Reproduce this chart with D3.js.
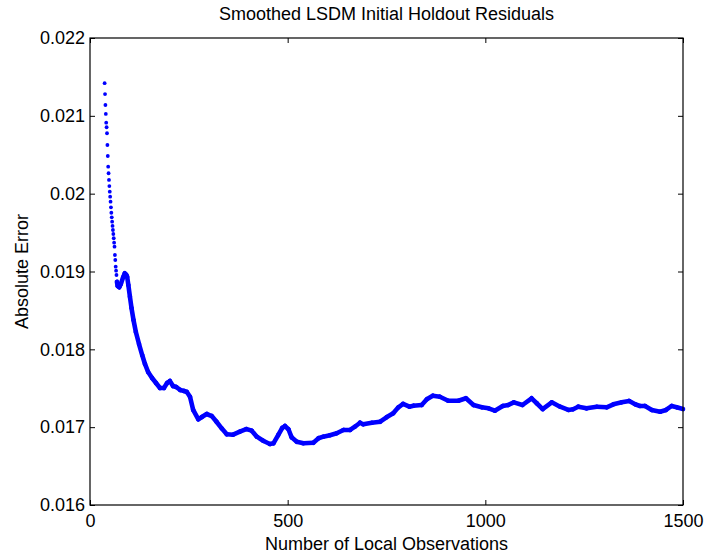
<!DOCTYPE html>
<html><head><meta charset="utf-8">
<script src="https://d3js.org/d3.v7.min.js"></script>
<style>
body{margin:0;background:#fff}
svg{display:block}
text{font-family:"Liberation Sans",Arial,Helvetica,sans-serif;fill:#000}
</style>
</head><body>
<svg id="c" width="707" height="556"></svg>
<script>
const chartTitle = "Smoothed LSDM Initial Holdout Residuals";
const xLabel = "Number of Local Observations";
const yLabel = "Absolute Error";
const xTicks = [0, 500, 1000, 1500];
const yTicks = [0.016, 0.017, 0.018, 0.019, 0.020, 0.021, 0.022];
const yTickLabels = ["0.016", "0.017", "0.018", "0.019", "0.02", "0.021", "0.022"];

const obsX = [
  37,38,39,40,41,42,43,44,45,46,47,48,49,50,51,52,53,54,55,56,57,58,59,60,61,62,63,64,65,66,67,68,
  70,74,78,84,88,92,94,97,101,105,110,116,124,132,139,147,157,167,177,187,195,202,210,218,228,238,245,253,
  261,274,283,295,308,320,333,346,362,379,395,409,422,438,455,464,476,486,493,502,510,523,540,565,578,590,607,624,641,658,670,683,691,713,734,
  750,767,780,792,808,818,839,852,867,885,906,932,951,970,991,1008,1024,1044,1058,1072,1094,1117,1130,1145,1168,1189,1210,1222,1235,
  1256,1282,1307,1324,1345,1364,1379,1391,1404,1421,1442,1457,1471,1484,1500
];
const absErr = [
  0.021420,0.021280,0.021139,0.021024,0.020912,0.020853,0.020776,0.020625,0.020484,0.020347,0.020262,0.020176,0.020098,0.020025,0.019961,0.019897,
  0.019825,0.019755,0.019696,0.019640,0.019585,0.019533,0.019482,0.019427,0.019370,0.019319,0.019212,0.019148,0.019062,0.019010,0.018955,0.018869,
  0.018814,0.018797,0.018839,0.018929,0.018977,0.018955,0.018933,0.018827,0.018676,0.018531,0.018377,0.018223,0.018068,0.017927,0.017812,0.017709,
  0.017632,0.017567,0.017503,0.017503,0.017567,0.017593,0.017529,0.017516,0.017478,0.017465,0.017452,0.017391,
  0.017221,0.017101,0.017131,0.017169,0.017143,0.017070,0.016985,0.016908,0.016903,0.016942,0.016976,0.016955,0.016878,0.016826,0.016784,0.016793,
  0.016899,0.016989,0.017015,0.016973,0.016870,0.016813,0.016793,0.016800,0.016857,0.016878,0.016896,0.016921,0.016964,0.016964,0.017006,0.017057,
  0.017037,0.017057,0.017070,
  0.017127,0.017178,0.017255,0.017298,0.017263,0.017276,0.017285,0.017358,0.017404,0.017391,0.017340,0.017340,0.017371,0.017285,0.017255,0.017242,
  0.017212,0.017272,0.017285,0.017319,0.017285,0.017371,0.017307,0.017233,0.017319,0.017263,0.017221,0.017230,0.017263,
  0.017242,0.017263,0.017255,0.017294,0.017319,0.017336,0.017294,0.017272,0.017272,0.017221,0.017199,0.017221,0.017272,0.017255,0.017233
];

const m = {left: 90, right: 683, top: 38, bottom: 505};
const svg = d3.select("#c");
const x = d3.scaleLinear().domain([0, 1500]).range([m.left, m.right]);
const y = d3.scaleLinear().domain([0.016, 0.022]).range([m.bottom, m.top]);

const data = obsX.map((v, i) => ({x: v, y: absErr[i]}));
const blue = "#0000ff";

// connect dense runs of the smoothed series; steep single-step dots stay separate
const g = svg.append("g");
for (let i = 1; i < data.length; i++) {
  const a = data[i-1], b = data[i];
  const dpx = Math.hypot(x(b.x) - x(a.x), y(b.y) - y(a.y));
  if (b.x - a.x >= 2 || dpx < 3.5) {
    g.append("line")
      .attr("x1", x(a.x)).attr("y1", y(a.y))
      .attr("x2", x(b.x)).attr("y2", y(b.y))
      .attr("stroke", blue).attr("stroke-width", 4.6).attr("stroke-linecap", "round");
  }
}
g.selectAll("circle").data(data).join("circle")
  .attr("cx", d => x(d.x)).attr("cy", d => y(d.y)).attr("r", 1.9).attr("fill", blue);

const fs = 18;
const ax = svg.append("g").attr("transform", `translate(0,${m.bottom})`)
  .call(d3.axisBottom(x).tickValues(xTicks).tickSize(-5).tickPadding(9).tickFormat(d => String(d)));
const ay = svg.append("g").attr("transform", `translate(${m.left},0)`)
  .call(d3.axisLeft(y).tickValues(yTicks).tickSize(-5).tickPadding(5).tickFormat((d, i) => yTickLabels[i]));
const at = svg.append("g").attr("transform", `translate(0,${m.top})`)
  .call(d3.axisTop(x).tickValues(xTicks).tickSize(-5).tickFormat(""));
const ar = svg.append("g").attr("transform", `translate(${m.right},0)`)
  .call(d3.axisRight(y).tickValues(yTicks).tickSize(-5).tickFormat(""));
[ax, ay, at, ar].forEach(a => {
  a.select(".domain").remove();
  a.selectAll("line").attr("stroke", "#000");
  a.selectAll("text").attr("font-size", fs).attr("font-family", '"Liberation Sans", Arial, sans-serif').attr("fill", "#000");
});
svg.append("rect").attr("x", m.left).attr("y", m.top)
  .attr("width", m.right - m.left).attr("height", m.bottom - m.top)
  .attr("fill", "none").attr("stroke", "#000").attr("stroke-width", 1.2);

svg.append("text").attr("x", (m.left + m.right) / 2).attr("y", 20)
  .attr("text-anchor", "middle").attr("font-size", fs).text(chartTitle);
svg.append("text").attr("x", (m.left + m.right) / 2).attr("y", 550)
  .attr("text-anchor", "middle").attr("font-size", fs).text(xLabel);
svg.append("text").attr("transform", `translate(28,${(m.top + m.bottom) / 2}) rotate(-90)`)
  .attr("text-anchor", "middle").attr("font-size", fs).text(yLabel);
</script>
</body></html>
